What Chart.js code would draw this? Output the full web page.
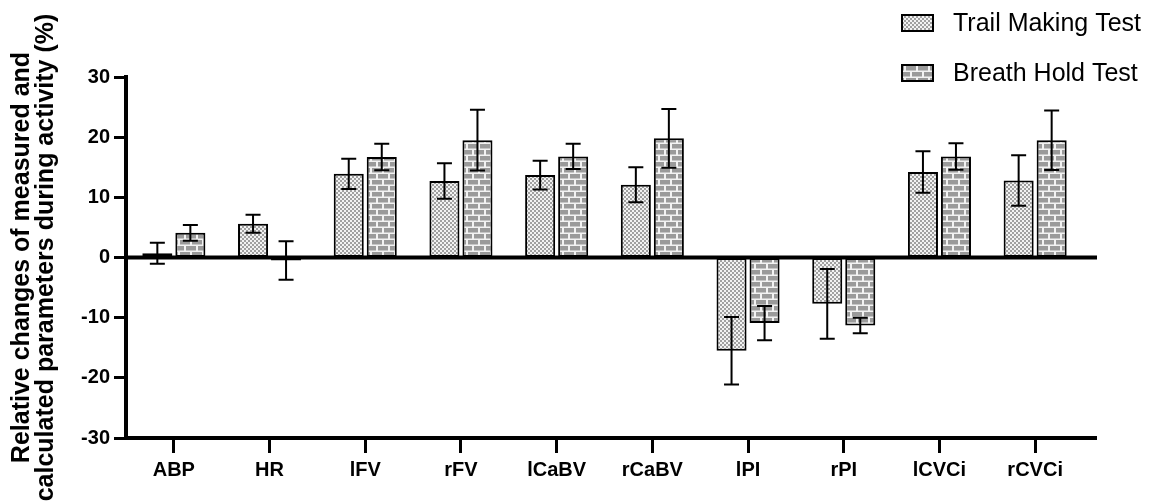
<!DOCTYPE html>
<html lang="en">
<head>
    <meta charset="UTF-8" />
    <title>Relative changes during activity</title>
    <script src="https://cdn.jsdelivr.net/npm/chart.js"></script>
    <style>
        body { margin: 0; background: #fff; }
        #wrap { width: 1154px; height: 504px; }
    </style>
</head>
<body>

<div id="wrap">
    <canvas id="changesChart" width="1154" height="504"></canvas>
</div>

<script>
    const categories = ['ABP', 'HR', 'lFV', 'rFV', 'lCaBV', 'rCaBV', 'lPI', 'rPI', 'lCVCi', 'rCVCi'];

    // mean relative change (%) and its error, per test
    const trailMean = [0.7, 5.6, 13.9, 12.7, 13.7, 12.1, -15.5, -7.7, 14.2, 12.8];
    const trailErr  = [1.75, 1.5, 2.5, 2.95, 2.4, 2.9, 5.6, 5.8, 3.45, 4.2];
    const breathMean = [4.1, -0.5, 16.7, 19.5, 16.8, 19.8, -10.9, -11.3, 16.8, 19.5];
    const breathErr  = [1.3, 3.2, 2.2, 5.05, 2.1, 4.9, 2.85, 1.3, 2.2, 4.95];

    const seriesNames = ['Trail Making Test', 'Breath Hold Test'];
    const yTicks = [-30, -20, -10, 0, 10, 20, 30];
    const yTitle = ['Relative changes of measured and', 'calculated parameters during activity (%)'];

    const FONT = '"Liberation Sans", Arial, sans-serif';

    // checkered fill
    function checkerPattern() {
        const c = document.createElement('canvas');
        c.width = 4; c.height = 4;
        const g = c.getContext('2d');
        g.fillStyle = '#f2f2f2';
        g.fillRect(0, 0, 4, 4);
        g.fillStyle = '#a0a0a0';
        g.fillRect(0, 0, 2, 2);
        g.fillRect(2, 2, 2, 2);
        return g.createPattern(c, 'repeat');
    }

    // brick fill
    function brickPattern() {
        const c = document.createElement('canvas');
        c.width = 12; c.height = 12;
        const g = c.getContext('2d');
        g.fillStyle = '#f2f2f2';
        g.fillRect(0, 0, 12, 12);
        g.fillStyle = '#9a9a9a';
        g.fillRect(0, 0, 10, 4.5);
        g.fillRect(0, 6, 4, 4.5);
        g.fillRect(6, 6, 6, 4.5);
        return g.createPattern(c, 'repeat');
    }

    const fills = [checkerPattern(), brickPattern()];

    // error bars, zero line, extended x axis, legend
    const extras = {
        id: 'extras',
        afterDatasetsDraw(chart) {
            const ctx = chart.ctx;
            const area = chart.chartArea;
            const y = chart.scales.y;
            const ext = 14;
            ctx.save();
            ctx.strokeStyle = '#000';
            ctx.lineWidth = 4;
            ctx.beginPath();
            ctx.moveTo(area.left, y.getPixelForValue(0));
            ctx.lineTo(area.right + ext, y.getPixelForValue(0));
            ctx.moveTo(area.left - 2, area.bottom);
            ctx.lineTo(area.right + ext, area.bottom);
            ctx.stroke();

            ctx.lineWidth = 2;
            chart.data.datasets.forEach((ds, i) => {
                const meta = chart.getDatasetMeta(i);
                meta.data.forEach((bar, j) => {
                    const m = ds.data[j];
                    const e = ds.errors[j];
                    const top = y.getPixelForValue(m + e);
                    const bot = y.getPixelForValue(m - e);
                    const x = bar.x;
                    ctx.beginPath();
                    ctx.moveTo(x, top);
                    ctx.lineTo(x, bot);
                    ctx.moveTo(x - 7.5, top);
                    ctx.lineTo(x + 7.5, top);
                    ctx.moveTo(x - 7.5, bot);
                    ctx.lineTo(x + 7.5, bot);
                    ctx.stroke();
                });
            });

            ctx.font = '25px ' + FONT;
            ctx.textBaseline = 'middle';
            ctx.textAlign = 'left';
            chart.data.datasets.forEach((ds, i) => {
                const bx = 902, by = 15 + i * 50;
                ctx.fillStyle = ds.backgroundColor;
                ctx.fillRect(bx, by, 31, 16);
                ctx.lineWidth = 2;
                ctx.strokeRect(bx, by, 31, 16);
                ctx.fillStyle = '#000';
                ctx.fillText(ds.label, 953, by + 9);
            });
            ctx.restore();
        }
    };

    const ctx = document.getElementById('changesChart').getContext('2d');
    new Chart(ctx, {
        type: 'bar',
        data: {
            labels: categories,
            datasets: [
                {
                    label: seriesNames[0],
                    data: trailMean,
                    errors: trailErr,
                    backgroundColor: fills[0],
                    borderColor: '#000',
                    borderWidth: 2,
                    borderSkipped: false
                },
                {
                    label: seriesNames[1],
                    data: breathMean,
                    errors: breathErr,
                    backgroundColor: fills[1],
                    borderColor: '#000',
                    borderWidth: 2,
                    borderSkipped: false
                }
            ]
        },
        options: {
            responsive: false,
            animation: false,
            categoryPercentage: 0.69,
            barPercentage: 0.91,
            layout: { padding: { top: 77, right: 71, bottom: 0, left: 0 } },
            plugins: {
                legend: { display: false },
                tooltip: { enabled: false }
            },
            scales: {
                x: {
                    afterFit: s => { s.height = 66; },
                    border: { display: false },
                    grid: {
                        drawOnChartArea: false,
                        offset: false,
                        tickLength: 15,
                        tickWidth: 3,
                        tickColor: '#000'
                    },
                    ticks: {
                        color: '#000',
                        padding: 5,
                        maxRotation: 0,
                        font: { family: FONT, size: 20, weight: 'bold' }
                    }
                },
                y: {
                    min: yTicks[0],
                    max: yTicks[yTicks.length - 1],
                    afterFit: s => { s.width = 126; },
                    afterBuildTicks: s => { s.ticks = yTicks.map(v => ({ value: v })); },
                    border: { display: true, color: '#000', width: 4 },
                    grid: {
                        drawOnChartArea: false,
                        tickLength: 12,
                        tickWidth: 3,
                        tickColor: '#000'
                    },
                    ticks: {
                        color: '#000',
                        padding: 4,
                        font: { family: FONT, size: 20, weight: 'bold' }
                    },
                    title: {
                        display: true,
                        text: yTitle,
                        color: '#000',
                        padding: { top: 10, bottom: 0 },
                        font: { family: FONT, size: 25, weight: 'bold', lineHeight: 0.96 }
                    }
                }
            }
        },
        plugins: [extras]
    });
</script>

</body>
</html>
